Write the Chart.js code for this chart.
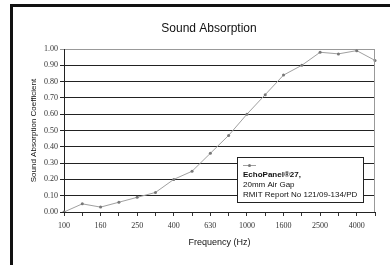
<!DOCTYPE html>
<html><head><meta charset="utf-8">
<script src="https://cdn.jsdelivr.net/npm/chart.js@4/dist/chart.umd.min.js"></script>
<style>html,body{margin:0;padding:0;background:#fff}#wrap{width:390px;height:266px;position:relative}</style>
</head><body><div id="wrap"><canvas id="c" width="390" height="266"></canvas></div>
<script>
const frequencies = ['100','125','160','200','250','315','400','500','630','800','1000','1250','1600','2000','2500','3150','4000','5000'];
const absorption = [0.00,0.05,0.03,0.06,0.09,0.12,0.20,0.25,0.36,0.47,0.60,0.72,0.84,0.90,0.98,0.97,0.99,0.93];
const yTicks = [0,0.1,0.2,0.3,0.4,0.5,0.6,0.7,0.8,0.9,1.0];
const chartTitle = 'Sound Absorption';
const yTitle = 'Sound Absorption Coefficient';
const xTitle = 'Frequency (Hz)';
const legendLines = ['EchoPanel\u00AE27,','20mm Air Gap','RMIT Report No 121/09-134/PD'];

const SANS = '"Liberation Sans", Arial, sans-serif';
const SERIF = '"Liberation Serif", "Times New Roman", serif';

const decor = {
  id: 'decor',
  beforeDraw(chart) {
    const ctx = chart.ctx;
    ctx.save();
    ctx.fillStyle = '#fff';
    ctx.fillRect(0, 0, chart.width, chart.height);
    ctx.strokeStyle = '#111';
    ctx.lineWidth = 3;
    ctx.beginPath();
    ctx.moveTo(11.5, 265);
    ctx.lineTo(11.5, 5.5);
    ctx.lineTo(392, 5.5);
    ctx.stroke();
    ctx.fillStyle = '#111';
    ctx.font = '12px ' + SANS;
    ctx.textAlign = 'center';
    ctx.textBaseline = 'middle';
    ctx.fillText(chartTitle, 209, 29);
    ctx.restore();
  },
  afterDatasetsDraw(chart) {
    const ctx = chart.ctx;
    const a = chart.chartArea;
    ctx.save();
    ctx.strokeStyle = '#999';
    ctx.lineWidth = 1;
    ctx.beginPath();
    ctx.moveTo(Math.round(a.right) - 0.5, a.top);
    ctx.lineTo(Math.round(a.right) - 0.5, a.bottom);
    ctx.stroke();
    // legend box
    const bx = 237.5, by = 157.5, bw = 126, bh = 45;
    ctx.fillStyle = '#fff';
    ctx.fillRect(bx, by, bw, bh);
    ctx.strokeStyle = '#222';
    ctx.strokeRect(bx, by, bw, bh);
    ctx.strokeStyle = '#a0a0a0';
    ctx.beginPath();
    ctx.moveTo(243, 165.5);
    ctx.lineTo(256, 165.5);
    ctx.stroke();
    ctx.fillStyle = '#777';
    ctx.beginPath();
    ctx.arc(249.5, 165.5, 1.5, 0, Math.PI * 2);
    ctx.fill();
    ctx.fillStyle = '#111';
    ctx.textAlign = 'left';
    ctx.textBaseline = 'middle';
    ctx.font = 'bold 8px ' + SANS;
    ctx.fillText(legendLines[0], 243, 174.5);
    ctx.font = '8px ' + SANS;
    ctx.fillText(legendLines[1], 243, 184.5);
    ctx.fillText(legendLines[2], 243, 194.5);
    ctx.restore();
  }
};

new Chart(document.getElementById('c'), {
  type: 'line',
  data: {
    labels: frequencies,
    datasets: [{
      data: absorption,
      borderColor: '#a0a0a0',
      borderWidth: 1,
      pointRadius: 1.5,
      pointBackgroundColor: '#777',
      pointBorderColor: '#777',
      pointBorderWidth: 0,
      tension: 0,
      fill: false
    }]
  },
  options: {
    responsive: false,
    animation: false,
    devicePixelRatio: 1,
    layout: { padding: { left: 14, top: 49, right: 15, bottom: 0 } },
    plugins: { legend: { display: false }, title: { display: false }, tooltip: { enabled: false } },
    scales: {
      x: {
        offset: false,
        afterFit(s) { s.height = 54; },
        grid: { display: true, drawOnChartArea: false, drawTicks: true, tickLength: 4, color: '#333' },
        border: { display: true, color: '#222', width: 1 },
        ticks: {
          autoSkip: false, maxRotation: 0, padding: 5, color: '#333',
          font: { family: SERIF, size: 8 },
          callback(v, i) { return i % 2 === 0 ? frequencies[i] : ''; }
        },
        title: { display: true, text: xTitle, color: '#111', font: { family: SANS, size: 9 }, padding: { top: 0, bottom: 18 } }
      },
      y: {
        min: 0, max: 1,
        afterFit(s) { s.width = 50; },
        afterBuildTicks(s) { s.ticks = yTicks.map(v => ({ value: v })); },
        grid: {
          drawTicks: true, tickLength: 4,
          color(c) { return c.tick && c.tick.value >= 1 ? '#999' : '#222'; }
        },
        border: { display: true, color: '#222', width: 1 },
        ticks: {
          padding: 2, color: '#333',
          font: { family: SERIF, size: 8 },
          callback(v) { return Number(v).toFixed(2); }
        },
        title: { display: true, text: yTitle, color: '#111', font: { family: SANS, size: 8 }, padding: { top: 15, bottom: 0 } }
      }
    }
  },
  plugins: [decor]
});
</script></body></html>
